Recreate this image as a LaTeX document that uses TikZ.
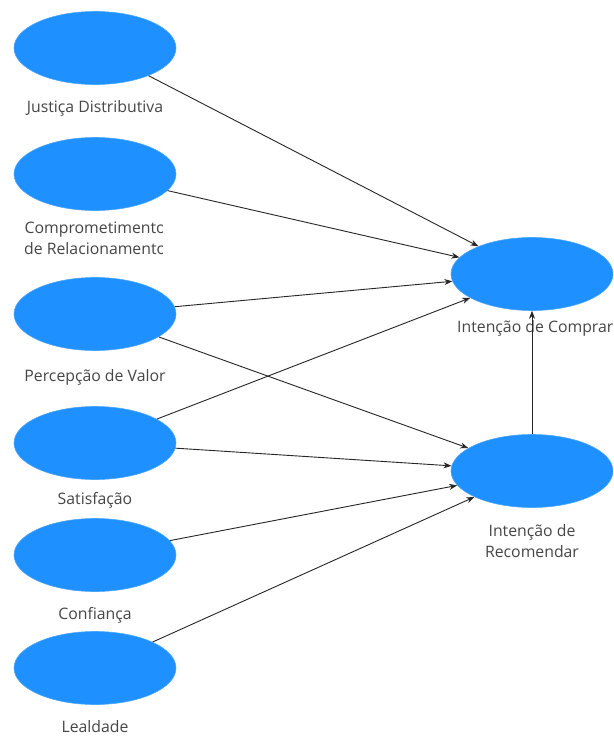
\documentclass[tikz,border=0pt]{standalone}
\usepackage{fontspec}
\setmainfont{Open Sans}
\usetikzlibrary{shapes.geometric,arrows.meta}
\definecolor{ellblue}{RGB}{30,144,255}
\definecolor{lbl}{RGB}{70,70,70}
\begin{document}
\begin{tikzpicture}[x=1pt,y=-1pt,
  lv/.style={ellipse,fill=ellblue,draw=ellblue!80!white,line width=0.6pt,minimum width=162pt,minimum height=73pt,inner sep=0pt},
  lab/.style={font=\fontsize{15.8}{21}\selectfont,text=lbl,align=center,inner sep=0pt},
  path/.style={draw=black!85,line width=0.9pt,-{Stealth[length=8pt,width=6pt]}}]
\useasboundingbox (0,0) rectangle (613,736);
\clip (0,0) rectangle (613,736);
\fill[white] (0,0) rectangle (613,736);
% left nodes
\node[lv] (jd) at (95,48) {};
\node[lv] (cr) at (95,174) {};
\node[lv] (pv) at (95,314) {};
\node[lv] (sa) at (95,443) {};
\node[lv] (co) at (95,555) {};
\node[lv] (le) at (95,668) {};
% right nodes
\node[lv] (ic) at (532,274) {};
\node[lv] (ir) at (532,471) {};
% labels
\node[lab] (ljd) at (95,108) {Justiça Distributiva};
\begin{scope}
\clip (0,215) rectangle (162.5,265);
\node[lab,anchor=north west] (lcr) at (24,222) {Comprometimento\\de Relacionamento};
\end{scope}
\node[lab] (lpv) at (95,377) {Percepção de Valor};
\node[lab] (lsa) at (95,500) {Satisfação};
\node[lab] (lco) at (95,615) {Confiança};
\node[lab] (lle) at (95,727) {Lealdade};
\node[lab,anchor=west] (lic) at (457,328) {Intenção de Comprar};
\node[lab] (lir) at (532,541) {Intenção de\\Recomendar};
% paths
\draw[path] (jd) -- (ic);
\draw[path] (cr) -- (ic);
\draw[path] (pv) -- (ic);
\draw[path] (sa) -- (ic);
\draw[path] (pv) -- (ir);
\draw[path] (sa) -- (ir);
\draw[path] (co) -- (ir);
\draw[path] (le) -- (ir);
\draw[path] (ir) -- (ic);
\end{tikzpicture}
\end{document}
